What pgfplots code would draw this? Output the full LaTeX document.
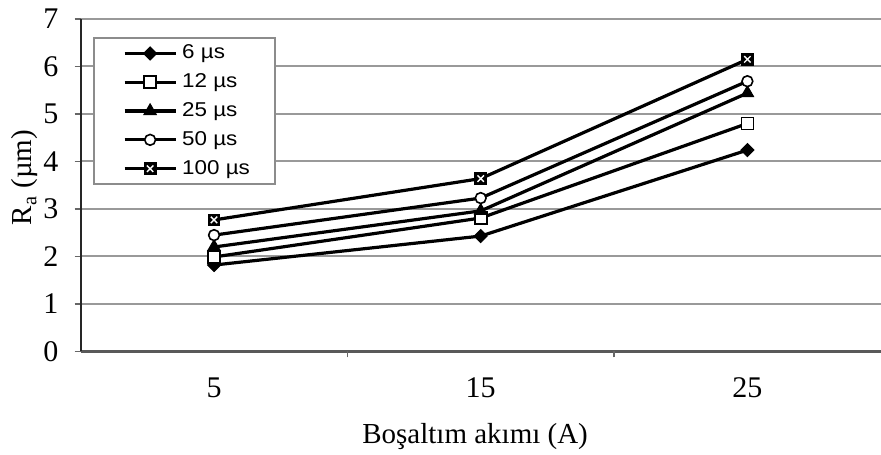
\documentclass[border=0pt]{standalone}
\usepackage{fontspec}
\setmainfont{Liberation Serif}
\newfontfamily\legfont{Liberation Sans}[FakeStretch=1.12]
\usepackage{pgfplots}
\pgfplotsset{compat=1.18}

% filled square with a white cross inside
\pgfdeclareplotmark{boxx}{%
  \pgfpathrectangle{\pgfpoint{-\pgfplotmarksize}{-\pgfplotmarksize}}{\pgfpoint{2\pgfplotmarksize}{2\pgfplotmarksize}}%
  \pgfusepath{fill}%
  \pgfsetstrokecolor{white}\pgfsetlinewidth{0.7pt}%
  \pgfpathmoveto{\pgfpoint{-0.5\pgfplotmarksize}{-0.5\pgfplotmarksize}}%
  \pgfpathlineto{\pgfpoint{0.5\pgfplotmarksize}{0.5\pgfplotmarksize}}%
  \pgfpathmoveto{\pgfpoint{-0.5\pgfplotmarksize}{0.5\pgfplotmarksize}}%
  \pgfpathlineto{\pgfpoint{0.5\pgfplotmarksize}{-0.5\pgfplotmarksize}}%
  \pgfusepath{stroke}%
}

% Ra (um) against discharge current, one table per pulse duration
\pgfplotstableread{
x  y
0  1.82
1  2.43
2  4.24
}\tsix
\pgfplotstableread{
x  y
0  1.99
1  2.81
2  4.80
}\ttwelve
\pgfplotstableread{
x  y
0  2.20
1  2.96
2  5.44
}\ttwentyfive
\pgfplotstableread{
x  y
0  2.45
1  3.23
2  5.69
}\tfifty
\pgfplotstableread{
x  y
0  2.77
1  3.64
2  6.15
}\thundred

\begin{document}
\begin{tikzpicture}
\begin{axis}[
  name=ax,
  scale only axis,
  width=400pt, height=166.25pt,
  xmin=-0.5, xmax=2.5,
  ymin=0, ymax=7,
  axis x line=bottom, axis y line=left,
  x axis line style={-, draw=black!65, line width=1.2pt},
  y axis line style={-, draw=black!85, line width=1.2pt},
  xtick={0,1,2}, xticklabels={5,15,25},
  ytick={0,1,...,7},
  tick align=outside,
  major tick length=3pt,
  xtick style={draw=none},
  ytick style={draw=black!60, line width=0.8pt},
  extra x ticks={0.5,1.5},
  extra x tick labels={},
  extra x tick style={grid=none, xtick style={draw=black!60, line width=0.8pt}},
  ymajorgrids,
  grid style={draw=black!40, line width=1pt},
  /pgf/number format/assume math mode=true,
  ticklabel style={font=\fontsize{15}{15}\selectfont},
  yticklabel style={inner sep=0pt, anchor=east, xshift=-8pt},
  xticklabel style={inner sep=0pt, anchor=north, yshift=-10pt},
  xlabel={Boşaltım akımı (A)},
  ylabel={R\textsubscript{a} (µm)},
  label style={font=\fontsize{14.5}{14.5}\selectfont},
  xlabel style={at={(rel axis cs:0.493,-0.278)}, anchor=base},
  ylabel style={at={(rel axis cs:-0.0696,0.523)}, anchor=center},
  every axis plot/.append style={black, line width=1.6pt},
  legend cell align=left,
  legend style={
    at={(rel axis cs:0.0154,0.946)}, anchor=north west,
    draw=black!45, line width=1pt,
    font=\legfont\fontsize{10}{11}\selectfont,
    inner xsep=10pt, inner ysep=3pt,
    row sep=4.9pt,
    nodes={inner xsep=2.5pt, inner ysep=0pt, text height=7.5pt, text depth=2pt},
  },
  legend image code/.code={%
    \path (0pt,0pt);
    \draw[mark repeat=2, mark phase=2] plot coordinates {(4.5pt,0pt) (17.25pt,0pt) (30pt,0pt)};
  },
]
\addplot[mark=square*, mark size=2.3pt, mark options={rotate=45, fill=black, line width=0.5pt}] table {\tsix};
\addlegendentry{6 µs}
\addplot[mark=square*, mark size=3pt, mark options={fill=white, line width=0.8pt}] table {\ttwelve};
\addlegendentry{12 µs}
\addplot[mark=triangle*, mark size=3.6pt, mark options={fill=black, line width=0.5pt}] table {\ttwentyfive};
\addlegendentry{25 µs}
\addplot[mark=*, mark size=2.7pt, mark options={fill=white, line width=0.8pt}] table {\tfifty};
\addlegendentry{50 µs}
\addplot[mark=boxx, mark size=3.2pt] table {\thundred};
\addlegendentry{100 µs}
\end{axis}
\pgfresetboundingbox
\path ([shift={(-40.35pt,-51.75pt)}]ax.south west) rectangle ([shift={(0.15pt,9.5pt)}]ax.north east);
\end{tikzpicture}
\end{document}
